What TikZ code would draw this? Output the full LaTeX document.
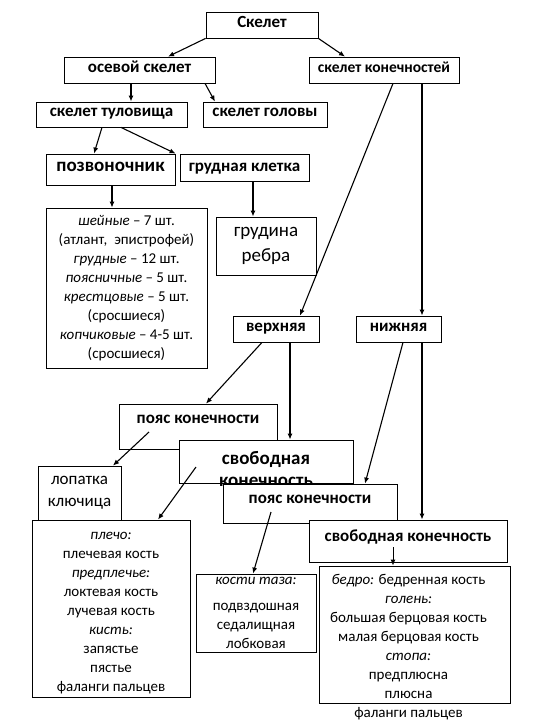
\documentclass[tikz,border=0pt]{standalone}
\usepackage{fontspec}
\setmainfont{Carlito}
\usetikzlibrary{calc,arrows.meta}
\newcommand{\fs}[2]{\fontsize{#1}{#2}\selectfont}
\begin{document}
\begin{tikzpicture}[x=1pt,y=-1pt,
  box/.style={draw, fill=white, line width=0.8pt, inner sep=0pt, align=center},
  hd/.style={box, font=\fs{17}{20}\bfseries, text height=0.72em, text depth=0.25em},
  txt/.style={box, font=\fs{15}{19}},
  lbl/.style={anchor=north, inner sep=0pt, align=center},
  arr/.style={line width=1.1pt, -{Latex[length=6pt,width=5pt]}},
  varr/.style={line width=1.7pt, -{Latex[length=6pt,width=5pt]}}]
\useasboundingbox (0,0) rectangle (540,720);
\fill[white] (0,0) rectangle (540,720);

\node[hd, minimum width=112pt, minimum height=26pt] (skel) at (262,25) {Скелет};
\node[hd, minimum width=151pt, minimum height=26pt] (os) at (139.5,70) {осевой скелет};
\node[hd, minimum width=150pt, minimum height=26pt, font=\fs{15.5}{18}\bfseries] (kon) at (384,70) {скелет конечностей};
\node[hd, minimum width=151pt, minimum height=25pt] (tul) at (111.5,114.5) {скелет туловища};
\node[hd, minimum width=124pt, minimum height=25pt] (gol) at (265,114.5) {скелет головы};
\node[hd, minimum width=129pt, minimum height=31pt, font=\fs{19}{22}\bfseries] (pozv) at (110.5,169.5) {позвоночник};
\node[hd, minimum width=129pt, minimum height=27pt, text height=0.72em+4pt] (grk) at (244.5,167.5) {грудная клетка};

\node[txt, minimum width=161pt, minimum height=160pt] (vert) at (126.5,288)
 {\textit{шейные} – 7 шт.\\
  (атлант,\ \ эпистрофей)\\
  \textit{грудные} – 12 шт.\hspace{34pt}\\
  \textit{поясничные} – 5 шт.\\
  \textit{крестцовые} – 5 шт.\\
  (сросшиеся)\\
  \textit{копчиковые} – 4-5 шт.\\
  (сросшиеся)};
\node[box, minimum width=100pt, minimum height=58pt, font=\fs{19}{25}] (grud) at (266,246) {грудина\\ребра};

\node[hd, minimum width=86pt, minimum height=26pt] (verh) at (276,329) {верхняя};
\node[hd, minimum width=85pt, minimum height=26pt] (nizh) at (398.5,329) {нижняя};

\node[hd, minimum width=158pt, minimum height=45pt, text depth=0.25em+10pt] (poyas1) at (198,426.5) {пояс конечности};
\node[box, minimum width=174pt, minimum height=43pt,
  label={[lbl, font=\fs{19}{22}\bfseries, yshift=-12pt]north:{свободная\\конечность}}] (svob1) at (266,461.5) {};
\node[hd, minimum width=174pt, minimum height=39pt, text depth=0.25em+5pt] (poyas2) at (310,503.5) {пояс конечности};

\node[box, minimum width=83pt, minimum height=54pt, font=\fs{17}{22}] (lop) at (79.5,493) {лопатка\\ключица};
\node[txt, minimum width=158pt, minimum height=177pt] (plecho) at (111,608.5)
 {\rule{0pt}{16pt}\textit{плечо:}\\
  плечевая кость\\
  \textit{предплечье:}\\
  локтевая кость\\
  лучевая кость\\
  \textit{кисть:}\\
  запястье\\
  пястье\\
  фаланги пальцев};
\node[hd, minimum width=198pt, minimum height=42pt, text depth=0.25em+3pt] (svob2) at (408,541) {свободная конечность};
\node[txt, minimum width=120pt, minimum height=78pt] (kosti) at (256,613)
 {\textit{кости таза:}\\[7pt]
  подвздошная\\
  седалищная\\
  лобковая};
\node[box, minimum width=191pt, minimum height=137pt,
  label={[lbl, font=\fs{15}{19}, xshift=-6pt, yshift=-8pt]north:{\textit{бедро:} бедренная кость\\
  \textit{голень:}\\
  большая берцовая кость\\
  малая берцовая кость\\
  \textit{стопа:}\\
  предплюсна\\
  плюсна\\
  фаланги пальцев}}] (bedro) at (414.5,634.5) {};

% connectors
\draw[arr] (skel.south west) -- ($(os.north)+(28.5,0)$);
\draw[arr] (skel.south east) -- ($(kon.north)+(-39,0)$);
\draw[varr] ($(os.south)+(-8.5,0)$) -- ($(tul.north)+(19.5,0)$);
\draw[arr] ($(os.south)+(65.5,0)$) -- ($(gol.north)+(-50,0)$);
\draw[arr] ($(tul.south)+(-9.5,0)$) -- ($(pozv.north)+(-16.5,0)$);
\draw[arr] ($(tul.south)+(9.5,0)$) -- ($(grk.north west)+(-4,0)$);
\draw[arr] ($(kon.south)+(9,0)$) -- ($(verh.north)+(24,0)$);
\draw[varr] ($(kon.south)+(38,0)$) -- ($(nizh.north)+(23.5,0)$);
\draw[arr] ($(pozv.south)+(1.5,0)$) -- ($(vert.north)+(-14.5,0)$);
\draw[varr] ($(grk.south)+(8.5,0)$) -- ($(grud.north)+(-13,0)$);
\draw[arr] ($(verh.south)+(-14,0)$) -- ($(poyas1.north)+(8,0)$);
\draw[varr] ($(verh.south)+(14,0)$) -- ($(svob1.north)+(24,0)$);
\draw[arr] ($(nizh.south)+(4.5,0)$) -- ($(poyas2.north)+(55,0)$);
\draw[varr] ($(nizh.south)+(23.5,0)$) -- ($(svob2.north)+(14,0)$);
\draw[arr] ($(poyas1.center)+(-49,5.5)$) -- ($(lop.north)+(33.5,0)$);
\draw[arr] ($(svob1.center)+(-70,5.5)$) -- ($(plecho.north)+(47,0)$);
\draw[arr] ($(poyas2.center)+(-39,8.5)$) -- ($(kosti.north)+(-3,0)$);
\draw[arr, line width=0.9pt] ($(svob2.center)+(-15,6)$) -- ($(bedro.north)+(-21.5,0)$);
\end{tikzpicture}
\end{document}
